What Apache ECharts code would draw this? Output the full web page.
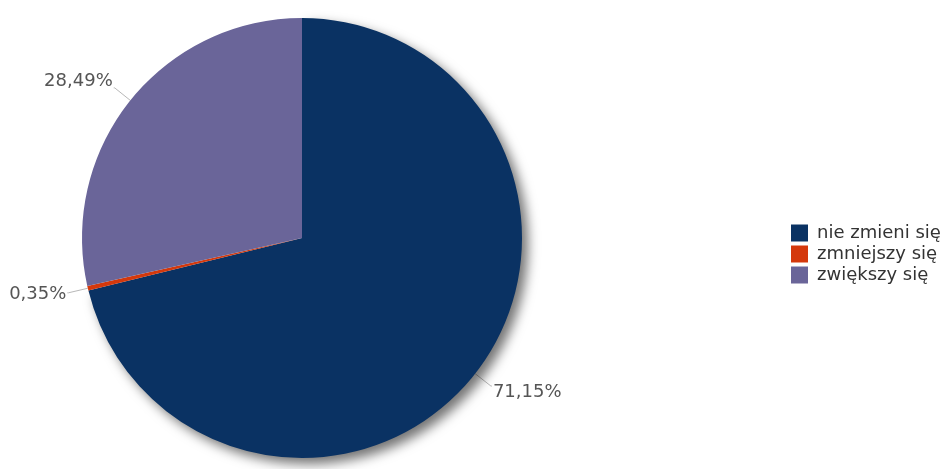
<!DOCTYPE html>
<html>
<head>
<meta charset="utf-8">
<script src="https://cdn.jsdelivr.net/npm/echarts@6/dist/echarts.min.js"></script>
<style>
html,body{margin:0;padding:0;background:#fff;}
#chart{width:949px;height:469px;}
</style>
</head>
<body>
<div id="chart"></div>
<script>
var categories = ['nie zmieni się', 'zmniejszy się', 'zwiększy się'];
var values = [71.15, 0.35, 28.49];
var colors = ['#0a3263', '#d4380c', '#6a6599'];

var chart = echarts.init(document.getElementById('chart'), null, {renderer: 'canvas'});
chart.setOption({
  animation: false,
  backgroundColor: '#ffffff',
  color: colors,
  legend: {
    orient: 'vertical',
    left: 791,
    top: 224,
    padding: 0,
    itemWidth: 17,
    itemHeight: 17,
    itemGap: 3,
    icon: 'rect',
    textStyle: {fontFamily: 'DejaVu Sans', fontSize: 18, color: '#333', padding: [0,0,0,4]},
    data: categories
  },
  series: [{
    type: 'pie',
    center: [302, 238],
    radius: [0, 220],
    startAngle: 90,
    clockwise: true,
    avoidLabelOverlap: false,
    label: {
      show: true,
      position: 'outside',
      distanceToLabelLine: 1,
      fontFamily: 'DejaVu Sans',
      fontSize: 18,
      color: '#555',
      formatter: function (p) { return p.value.toFixed(2).replace('.', ',') + '%'; }
    },
    labelLine: {
      show: true,
      length: 20,
      length2: 1,
      lineStyle: {color: '#b8b8b8', width: 1}
    },
    labelLayout: function (p) {
      var pts = p.labelLinePoints;
      if (!pts) return {};
      var dyLine = pts[1][1] - pts[0][1];
      var h = p.labelRect.height;
      if (dyLine < -6) return {dy: -h / 2 + 2};
      if (dyLine > 6) return {dy: h / 2 - 3};
      return {dy: 2};
    },
    emphasis: {disabled: true},
    data: categories.map(function (c, i) {
      var d = {name: c, value: values[i]};
      if (i === 0) {
        d.itemStyle = {shadowBlur: 12, shadowOffsetX: 6, shadowOffsetY: 6, shadowColor: 'rgba(0,0,0,0.55)'};
      }
      return d;
    })
  }]
});
</script>
</body>
</html>
